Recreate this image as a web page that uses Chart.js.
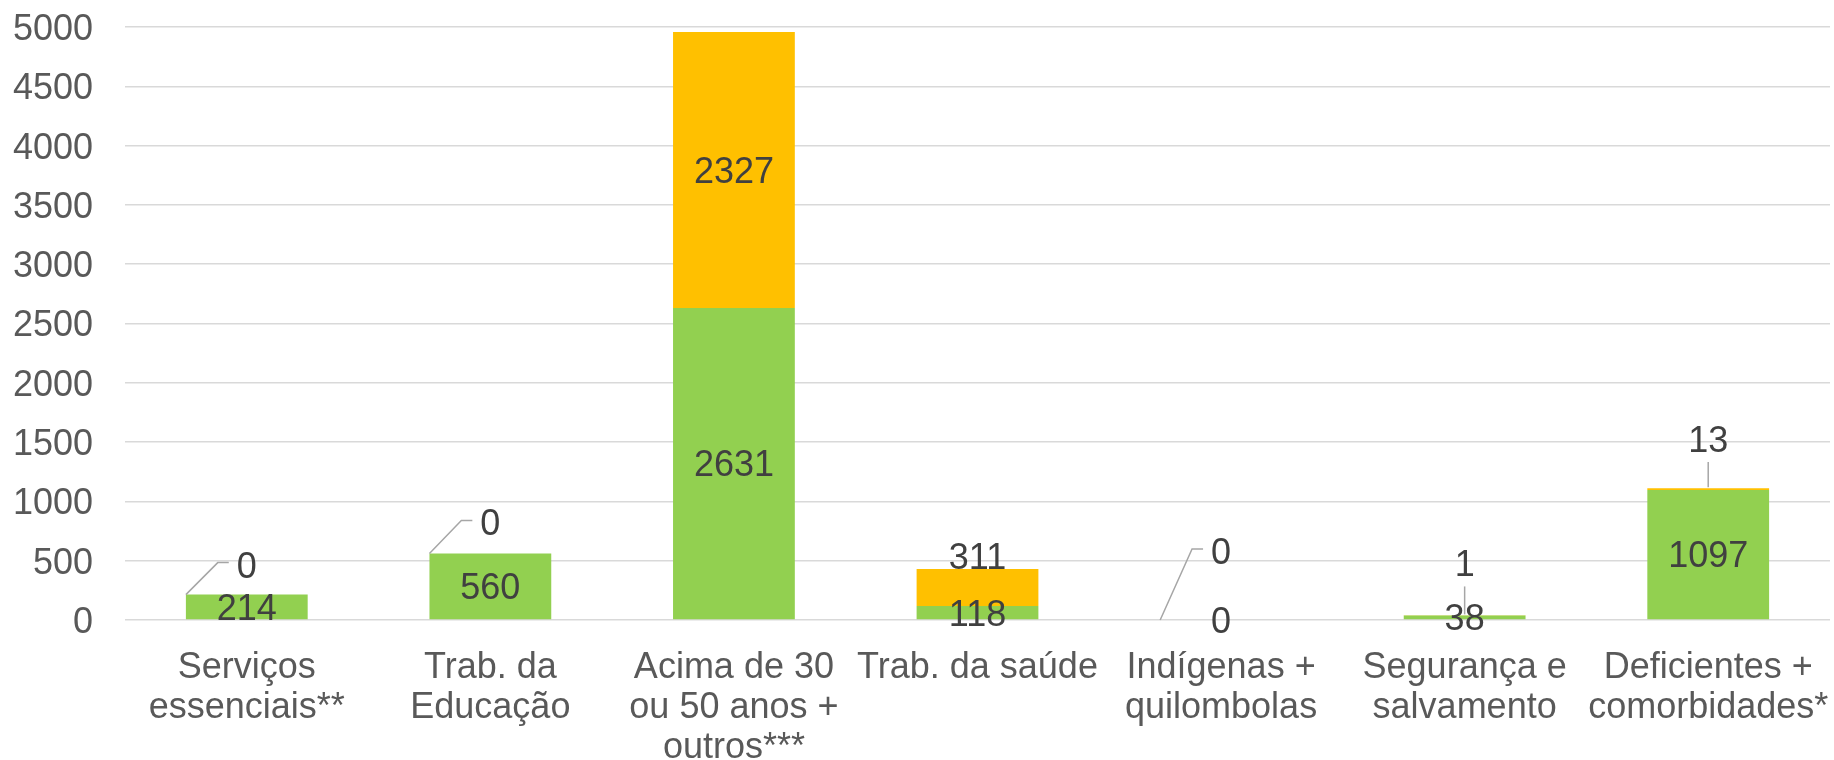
<!DOCTYPE html>
<html lang="pt-BR">
<head>
<meta charset="utf-8">
<title>Vacinados por grupo</title>
<script src="https://cdn.jsdelivr.net/npm/chart.js@4.4.1/dist/chart.umd.min.js"></script>
<style>
  html, body { margin: 0; padding: 0; background: #fff; }
  #wrap { width: 1834px; height: 760px; position: relative; }
</style>
</head>
<body>
<div id="wrap"><canvas id="grupoChart"></canvas></div>
<script>
// === Dados ===
const categories = [
  ['Serviços', 'essenciais**'],
  ['Trab. da', 'Educação'],
  ['Acima de 30', 'ou 50 anos +', 'outros***'],
  ['Trab. da saúde'],
  ['Indígenas +', 'quilombolas'],
  ['Segurança e', 'salvamento'],
  ['Deficientes +', 'comorbidades*']
];
const greenValues = [214, 560, 2631, 118, 0, 38, 1097];
const orangeValues = [0, 0, 2327, 311, 0, 1, 13];
const yTicks = [0, 500, 1000, 1500, 2000, 2500, 3000, 3500, 4000, 4500, 5000];

// labels of the top series that sit above their bar, with a leader line
const orangeLabelShift = [
  { dy: -30, leader: 'corner' },
  { dy: -31, leader: 'corner' },
  null,
  { dy: -31 },
  { dy: -69, leader: 'corner' },
  { dy: -52, leader: 'vertical' },
  { dy: -50, leader: 'vertical' }
];

const FONT = "'Liberation Sans', Arial, sans-serif";
const LABEL_SIZE = 36;

// === Value labels (no datalabels plugin available) ===
const valueLabels = {
  id: 'valueLabels',
  afterDatasetsDraw(chart) {
    const ctx = chart.ctx;
    const half = LABEL_SIZE * 0.358; // half the digit height, to centre digits on y
    ctx.save();
    ctx.font = LABEL_SIZE + 'px ' + FONT;
    ctx.fillStyle = '#404040';
    ctx.textAlign = 'center';
    ctx.textBaseline = 'alphabetic';
    chart.data.datasets.forEach((ds, di) => {
      const meta = chart.getDatasetMeta(di);
      meta.data.forEach((bar, i) => {
        const text = String(ds.data[i]);
        const cy = (bar.y + bar.base) / 2;
        let x = bar.x, y = cy;
        const shift = di === 1 ? orangeLabelShift[i] : null;
        if (shift) {
          y = cy + shift.dy;
          const w = ctx.measureText(text).width;
          ctx.strokeStyle = '#A6A6A6';
          ctx.lineWidth = 1.5;
          ctx.beginPath();
          if (shift.leader === 'corner') {
            const left = bar.x - bar.width / 2;
            const lx = x - w / 2;
            ctx.moveTo(left, bar.y);
            ctx.lineTo(lx - 19, y - 2);
            ctx.lineTo(lx - 8, y - 2);
          } else if (shift.leader === 'vertical') {
            ctx.moveTo(x, y + 23);
            ctx.lineTo(x, bar.y - 1);
          }
          ctx.stroke();
        }
        ctx.fillText(text, x, y + half);
      });
    });
    ctx.restore();
  }
};

// === Stacked bar chart ===
const ctx1 = document.getElementById('grupoChart');
new Chart(ctx1, {
  type: 'bar',
  data: {
    labels: categories,
    datasets: [
      { data: greenValues, backgroundColor: '#92D050', barPercentage: 0.5, categoryPercentage: 1 },
      { data: orangeValues, backgroundColor: '#FFC000', barPercentage: 0.5, categoryPercentage: 1 }
    ]
  },
  options: {
    responsive: true,
    maintainAspectRatio: false,
    animation: false,
    layout: { padding: { left: 0, right: 4, top: 27, bottom: 0 } },
    plugins: { legend: { display: false }, tooltip: { enabled: false } },
    scales: {
      x: {
        stacked: true,
        grid: { display: false, drawTicks: false },
        border: { display: false },
        ticks: {
          color: '#595959',
          font: { family: FONT, size: LABEL_SIZE, lineHeight: 1.11 },
          padding: 28,
          maxRotation: 0,
          autoSkip: false
        },
        afterFit(scale) {
          scale.height = 140;
          scale.paddingLeft = 0;
          scale.paddingRight = 0;
        }
      },
      y: {
        stacked: true,
        min: 0,
        max: 5000,
        afterBuildTicks(scale) { scale.ticks = yTicks.map(v => ({ value: v })); },
        grid: { color: '#D9D9D9', lineWidth: 1.5, drawTicks: false },
        border: { display: false },
        ticks: {
          color: '#595959',
          font: { family: FONT, size: LABEL_SIZE },
          padding: 32,
          labelOffset: 3,
          callback: v => String(v)
        },
        afterFit(scale) {
          scale.width = 125;
          scale.paddingTop = 0;
          scale.paddingBottom = 0;
        }
      }
    }
  },
  plugins: [valueLabels]
});
</script>
</body>
</html>
